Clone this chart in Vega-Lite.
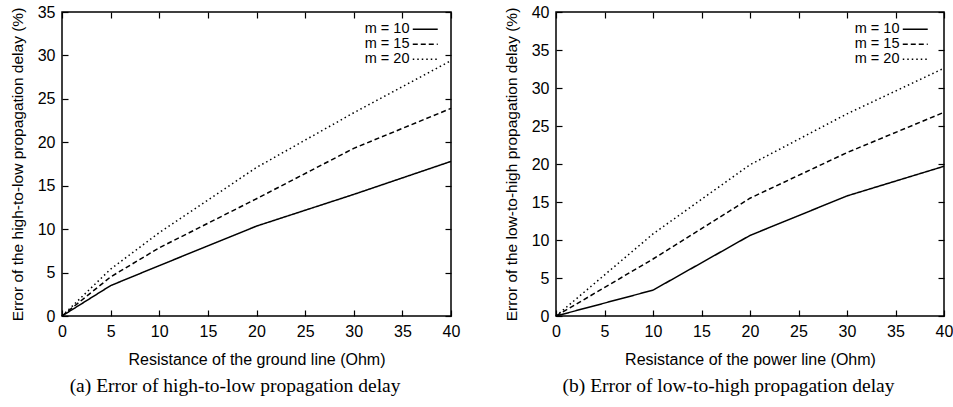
{
  "$schema": "https://vega.github.io/schema/vega-lite/v6.json",
  "background": "white",
  "padding": {"left": 9, "top": 3, "right": 4, "bottom": 5},
  "spacing": 42,
  "config": {
    "font": "Liberation Sans",
    "view": {"stroke": "black", "strokeWidth": 1.5},
    "axis": {
      "labelFont": "Liberation Sans", "labelFontSize": 16, "labelColor": "black",
      "titleFont": "Liberation Sans", "titleFontSize": 16, "titleFontWeight": "normal", "titleColor": "black",
      "tickColor": "black", "tickSize": -6, "tickWidth": 1.2, "domain": false, "grid": false,
      "labelPadding": 13, "labelFlush": false, "labelOverlap": false, "titlePadding": 12
    },
    "axisY": {"titleFontSize": 15.5},
    "legend": {
      "orient": "none", "padding": 0, "rowPadding": 0,
      "labelFont": "Liberation Sans", "labelFontSize": 14.5, "labelColor": "black",
      "labelAlign": "right", "labelOffset": -23,
      "symbolType": "M-2,0H2", "symbolSize": 156, "symbolStrokeWidth": 1.5, "symbolStrokeColor": "black"
    },
    "title": {"font": "Liberation Serif", "fontSize": 19.5, "fontWeight": "normal", "color": "black"}
  },
  "hconcat": [
    {
      "width": 389, "height": 304,
      "title": {"text": "(a) Error of high-to-low propagation delay", "orient": "bottom", "frame": "bounds", "anchor": "middle", "offset": 10},
      "data": {"values": [
        {"r": 0, "e": 0, "m": "m = 10"}, {"r": 5, "e": 3.5, "m": "m = 10"}, {"r": 10, "e": 5.8, "m": "m = 10"}, {"r": 20, "e": 10.35, "m": "m = 10"}, {"r": 30, "e": 14.0, "m": "m = 10"}, {"r": 40, "e": 17.8, "m": "m = 10"},
        {"r": 0, "e": 0, "m": "m = 15"}, {"r": 5, "e": 4.5, "m": "m = 15"}, {"r": 10, "e": 7.85, "m": "m = 15"}, {"r": 20, "e": 13.5, "m": "m = 15"}, {"r": 30, "e": 19.3, "m": "m = 15"}, {"r": 40, "e": 23.9, "m": "m = 15"},
        {"r": 0, "e": 0, "m": "m = 20"}, {"r": 5, "e": 5.4, "m": "m = 20"}, {"r": 10, "e": 9.6, "m": "m = 20"}, {"r": 20, "e": 17.1, "m": "m = 20"}, {"r": 30, "e": 23.4, "m": "m = 20"}, {"r": 40, "e": 29.4, "m": "m = 20"}
      ]},
      "layer": [
        {
          "mark": {"type": "line", "color": "black", "strokeWidth": 1.5},
          "encoding": {
            "x": {"field": "r", "type": "quantitative", "scale": {"domain": [0, 40], "nice": false}, "axis": {"title": "Resistance of the ground line (Ohm)", "values": [0, 5, 10, 15, 20, 25, 30, 35, 40]}},
            "y": {"field": "e", "type": "quantitative", "scale": {"domain": [0, 35], "nice": false}, "axis": {"title": "Error of the high-to-low propagation delay (%)", "values": [0, 5, 10, 15, 20, 25, 30, 35]}},
            "strokeDash": {"field": "m", "type": "nominal", "scale": {"domain": ["m = 10", "m = 15", "m = 20"], "range": [[1, 0], [5, 3], [1.5, 3]]}, "legend": {"title": null, "legendX": 356, "legendY": 10}}
          }
        },
        {
          "mark": {"type": "line", "opacity": 0},
          "encoding": {
            "x": {"field": "r", "type": "quantitative", "scale": {"domain": [0, 40], "nice": false}, "axis": {"orient": "top", "labels": false, "title": null, "values": [0, 5, 10, 15, 20, 25, 30, 35, 40]}},
            "y": {"field": "e", "type": "quantitative", "scale": {"domain": [0, 35], "nice": false}, "axis": {"orient": "right", "labels": false, "title": null, "values": [0, 5, 10, 15, 20, 25, 30, 35]}},
            "detail": {"field": "m", "type": "nominal"}
          }
        }
      ],
      "resolve": {"axis": {"x": "independent", "y": "independent"}}
    },
    {
      "width": 388, "height": 304,
      "title": {"text": "(b) Error of low-to-high propagation delay", "orient": "bottom", "frame": "bounds", "anchor": "middle", "offset": 10},
      "data": {"values": [
        {"r": 0, "e": 0, "m": "m = 10"}, {"r": 10, "e": 3.4, "m": "m = 10"}, {"r": 20, "e": 10.6, "m": "m = 10"}, {"r": 30, "e": 15.8, "m": "m = 10"}, {"r": 40, "e": 19.7, "m": "m = 10"},
        {"r": 0, "e": 0, "m": "m = 15"}, {"r": 10, "e": 7.5, "m": "m = 15"}, {"r": 20, "e": 15.5, "m": "m = 15"}, {"r": 30, "e": 21.5, "m": "m = 15"}, {"r": 40, "e": 26.8, "m": "m = 15"},
        {"r": 0, "e": 0, "m": "m = 20"}, {"r": 10, "e": 10.8, "m": "m = 20"}, {"r": 20, "e": 19.9, "m": "m = 20"}, {"r": 30, "e": 26.6, "m": "m = 20"}, {"r": 40, "e": 32.6, "m": "m = 20"}
      ]},
      "layer": [
        {
          "mark": {"type": "line", "color": "black", "strokeWidth": 1.5},
          "encoding": {
            "x": {"field": "r", "type": "quantitative", "scale": {"domain": [0, 40], "nice": false}, "axis": {"title": "Resistance of the power line (Ohm)", "values": [0, 5, 10, 15, 20, 25, 30, 35, 40]}},
            "y": {"field": "e", "type": "quantitative", "scale": {"domain": [0, 40], "nice": false}, "axis": {"title": "Error of the low-to-high propagation delay (%)", "values": [0, 5, 10, 15, 20, 25, 30, 35, 40]}},
            "strokeDash": {"field": "m", "type": "nominal", "scale": {"domain": ["m = 10", "m = 15", "m = 20"], "range": [[1, 0], [5, 3], [1.5, 3]]}, "legend": {"title": null, "legendX": 352, "legendY": 10}}
          }
        },
        {
          "mark": {"type": "line", "opacity": 0},
          "encoding": {
            "x": {"field": "r", "type": "quantitative", "scale": {"domain": [0, 40], "nice": false}, "axis": {"orient": "top", "labels": false, "title": null, "values": [0, 5, 10, 15, 20, 25, 30, 35, 40]}},
            "y": {"field": "e", "type": "quantitative", "scale": {"domain": [0, 40], "nice": false}, "axis": {"orient": "right", "labels": false, "title": null, "values": [0, 5, 10, 15, 20, 25, 30, 35, 40]}},
            "detail": {"field": "m", "type": "nominal"}
          }
        }
      ],
      "resolve": {"axis": {"x": "independent", "y": "independent"}}
    }
  ],
  "resolve": {"scale": {"strokeDash": "independent"}, "legend": {"strokeDash": "independent"}}
}
